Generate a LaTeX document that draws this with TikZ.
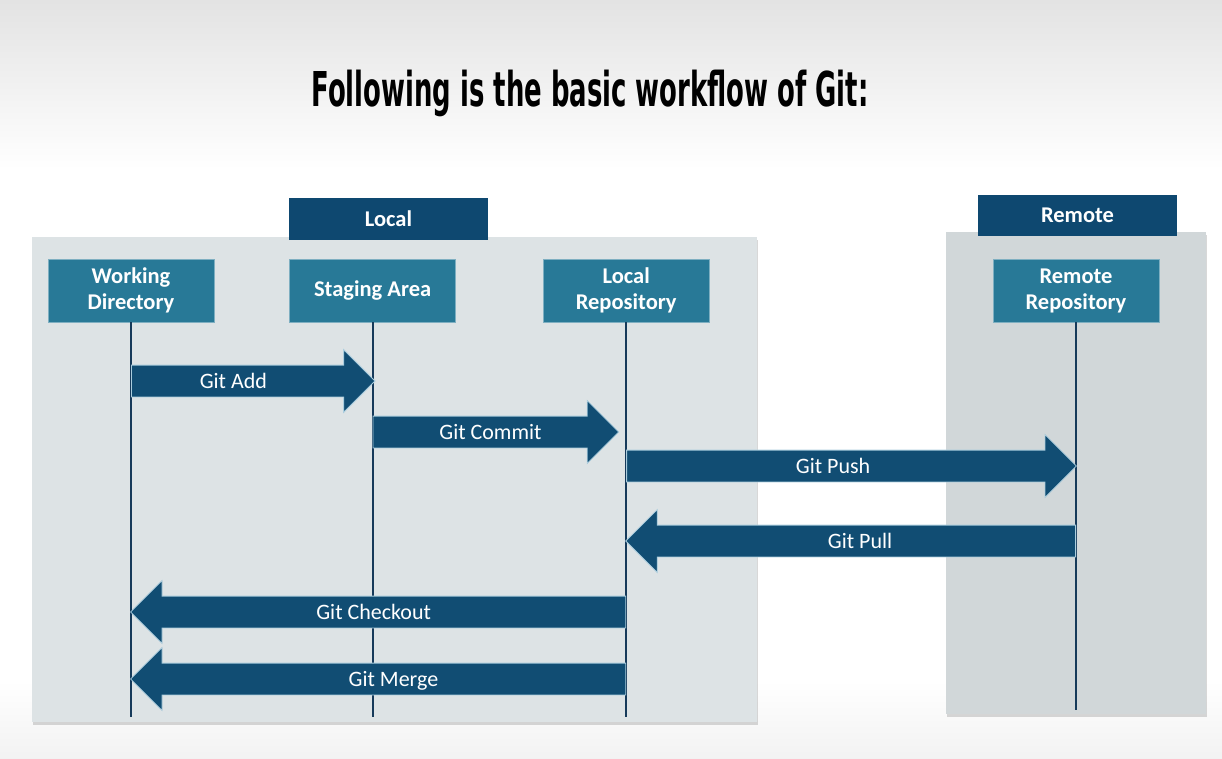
\documentclass[tikz,border=0pt]{standalone}
\usepackage{fontspec}
\setmainfont{Carlito}
\newfontfamily\titlefont{DejaVu Sans}[FakeStretch=0.54]
\usepackage{tikz}
\usetikzlibrary{shapes.arrows, positioning, calc, shadows}
\definecolor{panelgrey}{RGB}{221,227,229}
\definecolor{remotegrey}{RGB}{209,215,217}
\definecolor{headblue}{RGB}{14,72,112}
\definecolor{laneteal}{RGB}{40,121,151}
\definecolor{arrowblue}{RGB}{17,77,115}
\definecolor{arrowedge}{RGB}{170,205,222}
\definecolor{lineblue}{RGB}{22,58,90}
\tikzset{
  gtpanel/.style={draw=none, drop shadow={shadow xshift=1pt, shadow yshift=-3pt,
    opacity=0.3}},
  gttitle/.style={font=\titlefont\bfseries\fontsize{48}{56}\selectfont,
    text height=35pt, text depth=0pt, inner sep=0pt},
  gthead/.style={rectangle, fill=headblue, text=white, minimum width=199pt,
    minimum height=42pt, inner sep=0pt, font=\fontsize{22.5}{26}\selectfont\bfseries},
  gtlane/.style={rectangle, fill=laneteal, draw=laneteal!60!white, line width=0.6pt,
    text=white, align=center, minimum width=166pt, minimum height=63pt,
    inner sep=0pt, font=\fontsize{22.5}{26}\selectfont\bfseries},
  gtline/.style={draw=lineblue, line width=1.8pt},
  gtarrow/.style={single arrow, fill=arrowblue, draw=arrowedge, line width=0.8pt,
    inner xsep=0pt, inner ysep=15.5pt, single arrow head extend=15.5pt,
    single arrow tip angle=90, anchor=tail},
  gtlabel/.style={text=white, font=\fontsize{22}{26}\selectfont,
    text height=14pt, text depth=0pt, inner sep=0pt},
}
\begin{document}
\begin{tikzpicture}[x=1pt, y=-1pt, node distance=75pt]
\useasboundingbox (0,0) rectangle (1222,759);
% slide background
\fill[white] (0,0) rectangle (1222,759);
\shade[top color=gray!22, bottom color=white] (0,0) rectangle (1222,170);
\shade[top color=white, bottom color=gray!10] (0,680) rectangle (1222,759);

\node[gttitle] (title) at (590,89.5) {Following is the basic workflow of Git:};

% panels
\fill[gtpanel, fill=panelgrey] (32,237) rectangle (757,722);
\fill[gtpanel, fill=remotegrey] (946,232) rectangle (1206,714);

\node[gthead] (localhead) at (388.5,219) {Local};
\node[gthead, minimum height=41pt] (remotehead) at (1077.5,215.5) {Remote};

\node[gtlane] (wd) at (131,290.5) {Working\\Directory};
\node[gtlane, right=of wd] (sa) {Staging Area};
\node[gtlane, right=87pt of sa] (lr) {Local\\Repository};
\node[gtlane] (rr) at (1076,290.5) {Remote\\Repository};

% lifelines
\draw[gtline] (wd.south) -- ++(0,395);
\draw[gtline] (sa.south) -- ++(0,395);
\draw[gtline] (lr.south) -- ++(0,395);
\draw[gtline] (rr.south) -- ++(0,388);

% commands
\foreach \gname/\gfrom/\gto/\grow/\gshift/\gpos/\gtext in {
  add/wd/sa/381/2/0.42/Git Add,
  commit/sa/lr/432/-8/0.48/Git Commit,
  push/lr/rr/466/0/0.46/Git Push,
  pull/rr/lr/541/0/0.48/Git Pull,
  checkout/lr/wd/612/0/0.51/Git Checkout,
  merge/lr/wd/679/0/0.47/Git Merge}
{
  \coordinate (row-\gname) at (0,\grow);
  \coordinate (\gname-tail) at (\gfrom.south |- row-\gname);
  \coordinate (\gname-tip) at ($(\gto.south |- row-\gname)+(\gshift,0)$);
  \path let \p1=($(\gname-tip)-(\gname-tail)$), \n1={veclen(\x1,\y1)},
    \n2={atan2(\y1,\x1)} in
    node[gtarrow, minimum height=\n1, shape border rotate=\n2] (\gname)
    at (\gname-tail) {};
  \node[gtlabel] (\gname-label) at ($(\gname-tail)!\gpos!(\gname-tip)$) {\gtext};
}
\end{tikzpicture}
\end{document}
